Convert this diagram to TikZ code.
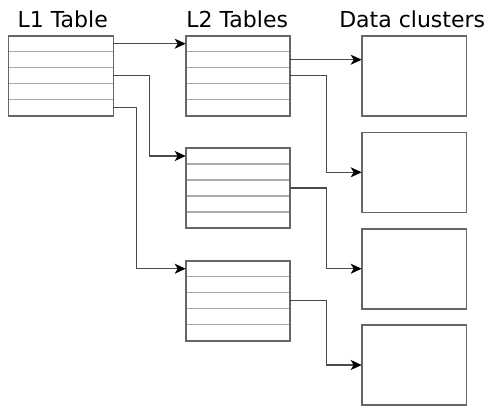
\documentclass[tikz,border=0pt]{standalone}
\usepackage{fontspec}
\setmainfont{DejaVu Sans}
\usetikzlibrary{arrows.meta,calc}
\definecolor{edgegray}{HTML}{666666}
\definecolor{rowgray}{HTML}{AAAAAA}
\definecolor{linkgray}{HTML}{4A4A4A}
\tikzset{
  rowcell/.style={draw=none,minimum width=104pt,minimum height=16pt,inner sep=0pt,outer sep=0pt},
  clusterbox/.style={draw=edgegray,line width=1.6pt,minimum width=104.6pt,minimum height=80pt,inner sep=0pt,outer sep=0pt},
  title/.style={anchor=base,font=\fontsize{22}{25}\selectfont,inner sep=0pt},
  link/.style={draw=linkgray,line width=1.4pt,-{Stealth[length=11pt,width=10pt,inset=3pt,black]}},
  rowline/.style={draw=rowgray,line width=1.2pt},
  frame/.style={draw=edgegray,line width=1.6pt}
}
\newcommand{\mytable}[4]{% name, x (left), y (top), width
  \foreach \i in {1,...,5}{
    \node[rowcell,minimum width=#4pt,anchor=north west] (#1-\i) at (#2,{#3+(\i-1)*16}) {};
  }
  \foreach \i in {1,...,4}{
    \draw[rowline] (#1-\i.south west) -- (#1-\i.south east);
  }
  \draw[frame] (#1-1.north west) rectangle (#1-5.south east);
}
\begin{document}
\begin{tikzpicture}[x=1pt,y=-1pt]
\useasboundingbox (0,0) rectangle (491,413);
% titles
\node[title] (h1) at (62.7,27) {L1 Table};
\node[title] (h2) at (237.2,27) {L2 Tables};
\node[title] (h3) at (412.2,27) {Data clusters};
% tables
\mytable{l1}{8.3}{35.7}{105}
\mytable{ta}{185.7}{35.7}{104}
\mytable{tb}{185.7}{148}{104}
\mytable{tc}{185.7}{260.7}{104}
% clusters
\node[clusterbox,anchor=north west] (c1) at (361.7,35.7) {};
\node[clusterbox,anchor=north west] (c2) at (361.7,132.3) {};
\node[clusterbox,anchor=north west] (c3) at (361.7,228.7) {};
\node[clusterbox,anchor=north west] (c4) at (361.7,325) {};
% L1 -> L2
\draw[link] (l1-1.east) -- (ta-1.west);
\draw[link] (l1-3.east) -- ++(36,0) |- (tb-1.west);
\draw[link] (l1-5.east) -- ++(23.4,0) |- (tc-1.west);
% L2 -> clusters
\draw[link] (ta-2.east) -- (ta-2.east -| c1.west);
\draw[link] (ta-3.east) -- ++(36.6,0) |- (c2.west);
\draw[link] (tb-3.east) -- ++(36.6,0) |- (c3.west);
\draw[link] (tc-3.east) -- ++(36.6,0) |- (c4.west);
\end{tikzpicture}
\end{document}
